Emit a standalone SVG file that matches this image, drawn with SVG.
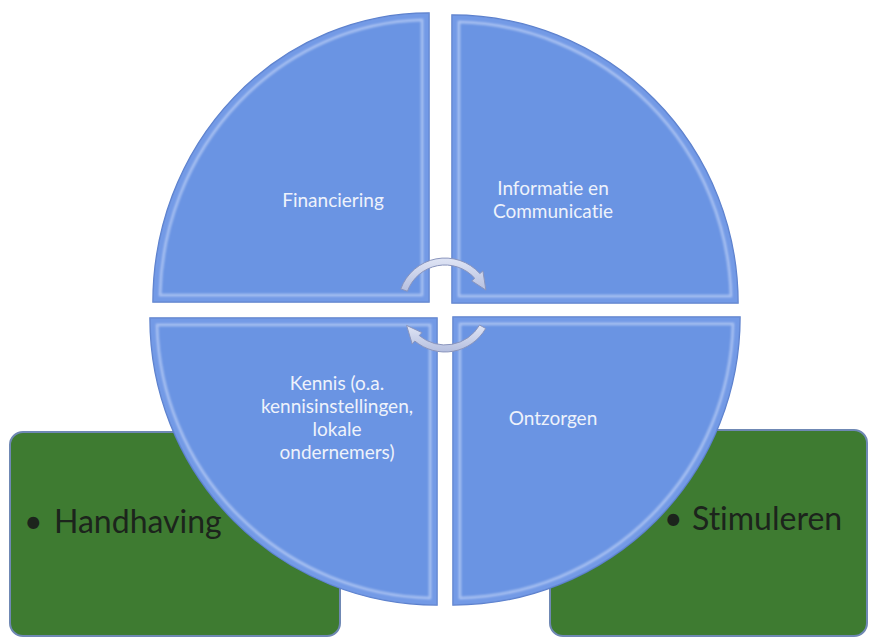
<svg xmlns="http://www.w3.org/2000/svg" width="869" height="638" viewBox="0 0 869 638">
<style>
text{font-variant-ligatures:none;font-feature-settings:"liga" 0,"clig" 0}
.box{fill:#3e7b31;stroke:#6f88b4;stroke-width:2}
.btxt{font-family:Lato,"Open Sans",sans-serif;font-size:32px;fill:#1c241c}
.quad{fill:#6a94e3;stroke:#5a7fcc;stroke-width:1.5}
.bevel{fill:none;stroke:#eaf0ff;stroke-opacity:0.5;stroke-width:2.5;filter:url(#soft)}
.band{fill:none;stroke:#88aaef;stroke-opacity:0.3;stroke-width:14}
.qtxt{font-family:Lato,"Open Sans",sans-serif;font-size:19px;fill:#eef2fb;text-anchor:middle}
.arr{fill:url(#arrg);stroke:#8a95bd;stroke-width:1}
</style>
<defs>
<filter id="soft" x="-5%" y="-5%" width="110%" height="110%"><feGaussianBlur stdDeviation="0.8"/></filter>
<linearGradient id="arrg" x1="0" y1="0" x2="0" y2="1">
<stop offset="0" stop-color="#e0e5f5"/><stop offset="1" stop-color="#b5bfdf"/>
</linearGradient>
<clipPath id="cTL"><path d="M 429 302 L 153 302 A 276 289 0 0 1 429 13 Z"/></clipPath>
<clipPath id="cTR"><path d="M 452 303 L 452 15 A 286 288 0 0 1 738 303 Z"/></clipPath>
<clipPath id="cBL"><path d="M 437 318 L 437 605 A 287 287 0 0 1 150 318 Z"/></clipPath>
<clipPath id="cBR"><path d="M 453 317 L 740 317 A 287 288 0 0 1 453 605 Z"/></clipPath>
</defs>
<rect width="869" height="638" fill="#ffffff"/>
<g id="handhaving">
<rect class="box" x="10" y="432" width="330" height="204" rx="13"/>
<text class="btxt" y="533"><tspan x="24">•</tspan><tspan x="54">Handhaving</tspan></text>
</g>
<g id="stimuleren">
<rect class="box" x="550" y="430" width="317" height="206" rx="13"/>
<text class="btxt" y="530"><tspan x="664">•</tspan><tspan x="692">Stimuleren</tspan></text>
</g>
<g id="financiering">
<path class="quad" d="M 429 302 L 153 302 A 276 289 0 0 1 429 13 Z"/>
<path class="band" clip-path="url(#cTL)" d="M 429 302 L 153 302 A 276 289 0 0 1 429 13 Z"/>
<path class="bevel" d="M 422 295 L 160.1 295 A 269 282 0 0 1 422 20.1 Z"/>
<text class="qtxt" x="333" y="207">Financiering</text>
</g>
<g id="informatie">
<path class="quad" d="M 452 303 L 452 15 A 286 288 0 0 1 738 303 Z"/>
<path class="band" clip-path="url(#cTR)" d="M 452 303 L 452 15 A 286 288 0 0 1 738 303 Z"/>
<path class="bevel" d="M 459 296 L 459 22.1 A 279 281 0 0 1 730.9 296 Z"/>
<text class="qtxt" x="553" y="195">Informatie en</text>
<text class="qtxt" x="553" y="218">Communicatie</text>
</g>
<g id="kennis">
<path class="quad" d="M 437 318 L 437 605 A 287 287 0 0 1 150 318 Z"/>
<path class="band" clip-path="url(#cBL)" d="M 437 318 L 437 605 A 287 287 0 0 1 150 318 Z"/>
<path class="bevel" d="M 430 325 L 430 597.9 A 280 280 0 0 1 157.1 325 Z"/>
<text class="qtxt" x="337" y="390">Kennis (o.a.</text>
<text class="qtxt" x="337" y="413">kennisinstellingen,</text>
<text class="qtxt" x="337" y="436">lokale</text>
<text class="qtxt" x="337" y="459">ondernemers)</text>
</g>
<g id="ontzorgen">
<path class="quad" d="M 453 317 L 740 317 A 287 288 0 0 1 453 605 Z"/>
<path class="band" clip-path="url(#cBR)" d="M 453 317 L 740 317 A 287 288 0 0 1 453 605 Z"/>
<path class="bevel" d="M 460 324 L 732.9 324 A 280 281 0 0 1 460 597.9 Z"/>
<text class="qtxt" x="553" y="425">Ontzorgen</text>
</g>
<g id="connectors">
<path class="arr" d="M 400.8 288.9 A 47 47 0 0 1 479.9 273.6 L 482.9 270.9 L 485.9 290.1 L 471.8 280.9 L 474.7 278.2 A 40 40 0 0 0 407.4 291.3 Z"/>
<path class="arr" d="M 485.7 328.5 A 47 47 0 0 1 414.8 341.0 L 412.2 344.1 L 406.6 325.4 L 421.9 332.6 L 419.3 335.6 A 40 40 0 0 0 479.6 325.0 Z"/>
</g>
</svg>
